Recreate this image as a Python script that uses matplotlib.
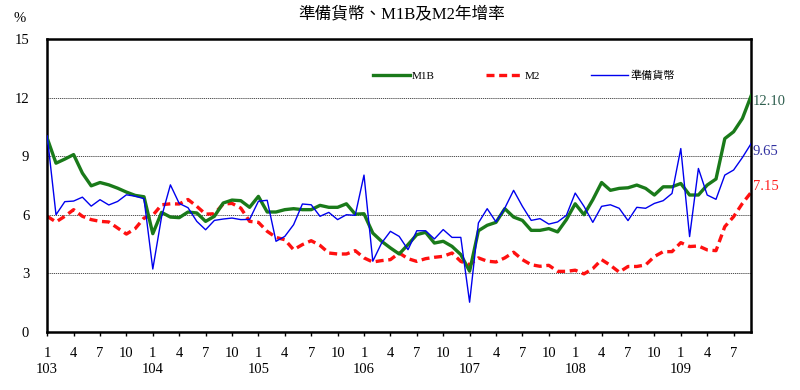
import numpy as np
import matplotlib.pyplot as plt

plt.rcParams['font.family'] = ['Liberation Serif', 'Noto Sans CJK TC']

# monthly year-on-year growth (%), 103/1 .. 109/9
m1b = [9.92, 8.64, 8.85, 9.08, 8.13, 7.48, 7.65, 7.53, 7.36, 7.16, 6.99, 6.92,
       5.03, 6.12, 5.88, 5.85, 6.14, 6.09, 5.66, 5.92, 6.60, 6.75, 6.72, 6.38,
       6.94, 6.14, 6.14, 6.26, 6.31, 6.26, 6.26, 6.48, 6.38, 6.38, 6.56, 6.03,
       6.05, 5.06, 4.64, 4.30, 3.99, 4.47, 4.98, 5.10, 4.55, 4.64, 4.38, 3.96,
       3.11, 5.18, 5.46, 5.61, 6.31, 5.88, 5.71, 5.20, 5.20, 5.29, 5.12, 5.75,
       6.56, 6.00, 6.77, 7.65, 7.25, 7.35, 7.38, 7.52, 7.35, 7.01, 7.43, 7.43,
       7.60, 7.01, 7.01, 7.52, 7.83, 9.90, 10.25, 10.93, 12.10]
m2 = [5.92, 5.63, 5.92, 6.26, 5.92, 5.75, 5.66, 5.63, 5.32, 5.01, 5.29, 5.83,
      5.97, 6.51, 6.56, 6.55, 6.78, 6.43, 6.03, 6.05, 6.55, 6.58, 6.34, 5.66,
      5.61, 5.15, 4.84, 4.72, 4.21, 4.47, 4.67, 4.43, 4.04, 3.99, 3.99, 4.16,
      3.79, 3.58, 3.65, 3.70, 4.04, 3.75, 3.61, 3.75, 3.82, 3.87, 4.04, 3.61,
      3.44, 3.79, 3.62, 3.58, 3.79, 4.08, 3.70, 3.44, 3.36, 3.41, 3.10, 3.10,
      3.16, 2.97, 3.24, 3.70, 3.41, 3.06, 3.35, 3.35, 3.43, 3.86, 4.11, 4.11,
      4.57, 4.37, 4.40, 4.20, 4.16, 5.39, 5.90, 6.58, 7.15]
reserve = [10.04, 6.00, 6.67, 6.70, 6.90, 6.44, 6.77, 6.50, 6.68, 7.02, 6.95, 6.82,
           3.22, 5.90, 7.53, 6.58, 6.36, 5.66, 5.23, 5.71, 5.78, 5.83, 5.75, 5.76,
           6.69, 6.74, 4.64, 4.89, 5.49, 6.55, 6.51, 5.92, 6.12, 5.75, 6.00, 5.97,
           8.03, 3.62, 4.55, 5.15, 4.89, 4.21, 5.18, 5.18, 4.76, 5.24, 4.84, 4.84,
           1.52, 5.58, 6.31, 5.63, 6.34, 7.25, 6.43, 5.71, 5.80, 5.52, 5.63, 5.97,
           7.11, 6.43, 5.61, 6.43, 6.51, 6.33, 5.70, 6.38, 6.33, 6.58, 6.72, 7.09,
           9.39, 4.88, 8.37, 7.01, 6.79, 8.03, 8.29, 8.93, 9.65]
years = ['103', '104', '105', '106', '107', '108', '109']
months = ['1', '4', '7', '10']

x = np.arange(len(m1b))

fig = plt.figure(figsize=(8, 3.9), dpi=100)
ax = fig.add_axes([0.059, 0.149, 0.88, 0.751])

ax.plot(x, m1b, color='#1a7a1a', lw=2.4, label='M1B', zorder=3)
ax.plot(x, m2, color='#ff1010', lw=2.4, ls=(0, (2.4, 1.4)), label='M2', zorder=2)
ax.plot(x, reserve, color='#0000ee', lw=1.0, label='準備貨幣', zorder=4)

ax.set_xlim(0, len(m1b) - 1)
ax.set_ylim(0, 15)
ax.set_yticks(np.arange(0, 16, 3))
ax.tick_params(axis='y', length=0, pad=13, labelsize=10.5)

ticks, labels = [], []
for yi, yr in enumerate(years):
    for mi, mo in enumerate(months):
        pos = yi * 12 + mi * 3
        if pos < len(m1b):
            ticks.append(pos)
            labels.append(mo + '\n' + yr if mo == '1' else mo + '\n')
ax.set_xticks(ticks)
ax.set_xticklabels(labels, linespacing=1.3)
ax.tick_params(axis='x', length=3, width=1, direction='out', pad=8, labelsize=10.5)

for v in [3, 6, 9, 12]:
    ax.axhline(v, color='#333333', lw=0.6, ls=(0, (1.5, 1)), zorder=1)

for s in ax.spines.values():
    s.set_linewidth(1.8)

ax.annotate(f'{m1b[-1]:.2f}', (x[-1], m1b[-1]), xytext=(1, -4), textcoords='offset points',
            va='center', ha='left', color='#2f5f4f', fontsize=10.5)
ax.annotate(f'{reserve[-1]:.2f}', (x[-1], reserve[-1]), xytext=(1, -6), textcoords='offset points',
            va='center', ha='left', color='#3030a0', fontsize=10.5)
ax.annotate(f'{m2[-1]:.2f}', (x[-1], m2[-1]), xytext=(1, 4), textcoords='offset points',
            va='center', ha='left', color='#ff2020', fontsize=10.5)

ax.legend(ncol=3, loc='center left', bbox_to_anchor=(0.463, 0.874), frameon=False,
          fontsize=8, handlelength=3.3, handletextpad=0.2, columnspacing=4.6,
          borderaxespad=0, borderpad=0)

fig.text(0.502, 0.963, '準備貨幣、M1B及M2年增率', ha='center', va='center', fontsize=12)
fig.text(0.025, 0.953, '%', ha='center', va='center', fontsize=10.5)

fig.savefig('out.png', dpi=100)
